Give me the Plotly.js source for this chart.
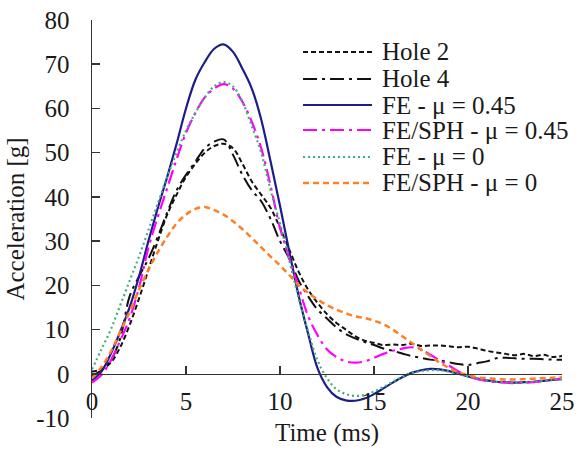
<!DOCTYPE html>
<html>
<head>
<meta charset="utf-8">
<script src="https://cdn.plot.ly/plotly-3.0.1.min.js"></script>
<style>html,body{margin:0;padding:0;background:#fff;}#chart{width:582px;height:452px;}</style>
</head>
<body>
<div id="chart"></div>
<script>
// Time (ms)
var time = [0,0.5,1,1.5,2,2.5,3,3.5,4,4.5,5,5.5,6,6.5,7,7.5,8,8.5,9,9.5,10,10.5,11,11.5,12,12.5,13,13.5,14,14.5,15,15.5,16,16.5,17,17.5,18,18.5,19,19.5,20,20.5,21,21.5,22,22.5,23,23.5,24,24.5,25];

var hole2 = [0.5,1,2.5,6,11,17,23.5,30,36,40.5,44.5,47.5,50,51.5,52,51,47.5,43.5,40.5,37.5,33,28,23,19,16,13.5,11.5,10,8.5,7.5,7,6.5,6.6,6.5,6.8,6.3,6.4,6.4,6.2,6,6.1,5.7,5.2,4.8,4.5,4.2,4.5,4,4.3,3.8,4];

var hole4 = [-0.5,0.8,3,8,17.5,22,26,31,36.5,41.5,45,48,51,52.5,53,49.5,45,41.5,39,35,30,26,21,17.5,14.5,12.5,10.5,9,8,7.2,6.5,5.7,5.2,4.6,4,3.6,3.2,3,2.6,2.2,2,2.4,2.8,3.5,3.6,3.5,3.4,3.4,3.3,3.2,3.2];

var fe045 = [-1.5,0.5,4.5,9.5,15,22,30,37.5,44.5,52,60,66.5,70.5,73.5,74.5,72.8,69,64.5,57.5,48,38,27.5,17.5,9,1.2,-3,-5.2,-6,-6.1,-5.6,-4.6,-3.3,-2,-0.8,0.2,0.8,1.1,1,0.6,0,-0.6,-1.1,-1.5,-1.8,-1.9,-2,-1.9,-1.8,-1.6,-1.4,-1.2];

var sph045 = [-2,-0.3,3,7.5,12.5,19.5,28.5,35.5,42,48.5,54.5,59,62.5,64.5,65.5,64.5,61.5,57,51,42.5,33,26,19.5,13,8.7,5.5,3.8,2.8,2.5,2.8,3.6,4.5,5.2,5.7,6,5.5,4.3,3,1.8,0.5,-0.5,-1.2,-1.6,-1.9,-2,-2.1,-2,-1.9,-1.6,-1.3,-1.1];

var fe0 = [1,5.5,10,15.5,21,26.5,32.5,38.5,44.5,50,55,59,62.5,65,66,65,61.5,56,50,41.5,34,25.5,17,9.5,3,-1,-3.5,-4.6,-5,-4.8,-4,-3,-1.8,-0.7,0.1,0.6,0.8,0.8,0.5,0,-0.6,-1.1,-1.5,-1.8,-1.9,-2,-1.9,-1.8,-1.6,-1.4,-1.2];

var sph0 = [-1,1.5,5,9.5,14,19,23.5,27.5,31,34,36,37.3,37.7,37,36,34.5,32.7,30.7,28.6,26.5,24.5,22.3,20,18.3,16.8,15.5,14.5,13.7,13,12.6,12,11.2,10,8.5,7,5.5,4,2.5,1.3,0.3,-0.3,-0.8,-1,-1.2,-1.3,-1.3,-1.2,-1.1,-1,-0.9,-0.8];

var seriesNames = ['Hole 2','Hole 4','FE - \u03bc = 0.45','FE/SPH - \u03bc = 0.45','FE - \u03bc = 0','FE/SPH - \u03bc = 0'];
var seriesData = [hole2, hole4, fe045, sph045, fe0, sph0];
var seriesColors = ['#111111','#111111','#1c1c8a','#ff00ff','#3fae7a','#ff7f27'];
var seriesDash = ['5px,3px','14px,5px,3px,5px','solid','14px,5px,3px,5px','2px,3px','6px,4px'];
var seriesWidth = [2,2,2.2,2.2,2.2,2.5];

var xTicks = [0,5,10,15,20,25];
var yTicks = [-10,0,10,20,30,40,50,60,70,80];

var FONT = 'Liberation Serif, Times New Roman, serif';
var TXT = '#1a1a1a';

var traces = seriesData.map(function(d, i){
  return {
    x: time, y: d, name: seriesNames[i], type: 'scatter', mode: 'lines',
    line: {color: seriesColors[i], dash: seriesDash[i], width: seriesWidth[i], shape: 'spline'},
    showlegend: false, hoverinfo: 'skip'
  };
});

// manual legend (layout decoration)
var legY = [0.9196,0.8518,0.7864,0.7236,0.6558,0.5905];
var shapes = [], annotations = [];
seriesNames.forEach(function(n, i){
  shapes.push({type:'line', xref:'paper', yref:'paper', x0:0.449, x1:0.5957, y0:legY[i], y1:legY[i],
    line:{color:seriesColors[i], dash:seriesDash[i], width:seriesWidth[i]}});
  annotations.push({xref:'paper', yref:'paper', x:0.6128, y:legY[i], xanchor:'left', yanchor:'middle',
    text:n, showarrow:false, font:{family:FONT, size:25, color:TXT}});
});

var layout = {
  width: 582, height: 452,
  margin: {l: 92, r: 20, t: 20, b: 34},
  paper_bgcolor: '#fff', plot_bgcolor: '#fff',
  font: {family: FONT, size: 25, color: TXT},
  showlegend: false,
  xaxis: {
    range: [0, 25], tickvals: xTicks, ticktext: xTicks.map(String),
    anchor: 'free', position: 1/9,
    showline: true, linecolor: '#333', linewidth: 1.5,
    ticks: 'inside', ticklen: 8, tickcolor: '#333', tickwidth: 1.5,
    showgrid: false, zeroline: false,
    ticklabelstandoff: 5,
    tickfont: {family: FONT, size: 25, color: TXT},
    title: {text: 'Time (ms)', font: {family: FONT, size: 25, color: TXT}, standoff: 9}
  },
  yaxis: {
    range: [-10, 80], tickvals: yTicks, ticktext: yTicks.map(String),
    showline: true, linecolor: '#333', linewidth: 1.5,
    ticks: 'inside', ticklen: 8, tickcolor: '#333', tickwidth: 1.5,
    showgrid: false, zeroline: false,
    ticklabelstandoff: 16,
    tickfont: {family: FONT, size: 25, color: TXT},
    title: {text: 'Acceleration [g]', font: {family: FONT, size: 25, color: TXT}, standoff: 4}
  },
  shapes: shapes,
  annotations: annotations
};

Plotly.newPlot('chart', traces, layout, {displayModeBar: false, staticPlot: true});
</script>
</body>
</html>
